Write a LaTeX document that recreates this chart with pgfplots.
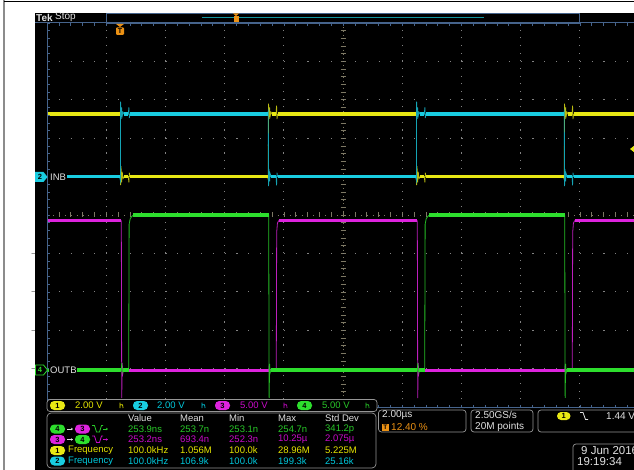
\documentclass[border=0pt]{standalone}
\usepackage{pgfplots}
\usepackage{pgfplotstable}
\pgfplotsset{compat=1.18}
\usetikzlibrary{arrows.meta}
\usepackage{fontspec}
\setmainfont{Liberation Sans}
\definecolor{chA}{RGB}{232,232,20}
\definecolor{chB}{RGB}{25,205,225}
\definecolor{chC}{RGB}{222,35,222}
\definecolor{chD}{RGB}{45,222,45}
\definecolor{tA}{RGB}{230,230,0}
\definecolor{tB}{RGB}{0,200,220}
\definecolor{tC}{RGB}{200,10,200}
\definecolor{tD}{RGB}{40,200,40}
\definecolor{gridc}{RGB}{130,130,130}
\definecolor{cenc}{RGB}{125,120,100}
\definecolor{bord}{RGB}{70,100,140}
\definecolor{boxc}{RGB}{150,150,150}
\definecolor{txt}{RGB}{225,225,225}
\definecolor{orng}{RGB}{235,145,20}
\definecolor{recbar}{RGB}{20,150,160}
\newcommand{\rf}{\fontsize{9.5}{10}\selectfont}
\newcommand{\bxf}{\fontsize{10}{10.5}\selectfont}
\newcommand{\pf}{\bfseries\fontsize{7.5}{8}\selectfont}
\newcommand{\pill}[4]{\fill[#3, rounded corners=4.2pt] (#1,#2-4.5) rectangle ++(15,9);
  \node[black, font=\pf, inner sep=0pt] at (#1+7.5,#2) {#4};}
\newcommand{\bw}[3]{\draw[#3, line width=0.7pt] (#1,#2+2.5) -- (#1,#2-3) (#1,#2-0.5) .. controls (#1+2,#2-2) and (#1+3,#2-1) .. (#1+3,#2+2.5);}

% channel 1 (yellow) : time in us, volts
\pgfplotstableread{
t v s
-2.6 3.25 1
-0.03 3.25 1
0.000 3.4 0
0.006 -0.45 0
0.020 0.55 0
0.040 -0.3 0
0.060 0.25 0
0.090 -0.1 0
0.130 0.0 1
0.270 0.0 1
0.285 -0.3 0
0.300 0.2 0
0.320 0.0 1
4.970 0.0 1
4.995 -0.15 0
5.005 3.8 0
5.020 3.0 0
5.040 3.6 0
5.060 3.15 0
5.090 3.35 0
5.130 3.25 1
5.260 3.25 1
5.275 3.7 0
5.290 3.0 0
5.310 3.25 1
9.970 3.25 1
10.000 3.4 0
10.006 -0.45 0
10.020 0.55 0
10.040 -0.3 0
10.060 0.25 0
10.090 -0.1 0
10.130 0.0 1
10.270 0.0 1
10.285 -0.3 0
10.300 0.2 0
10.320 0.0 1
14.970 0.0 1
14.995 -0.15 0
15.005 3.8 0
15.020 3.0 0
15.040 3.6 0
15.060 3.15 0
15.090 3.35 0
15.130 3.25 1
15.260 3.25 1
15.275 3.7 0
15.290 3.0 0
15.310 3.25 1
17.600 3.25 1
}\chone
% channel 2 (cyan, INB)
\pgfplotstableread{
t v s
-2.6 0.0 1
-0.03 0.0 1
0.000 -0.2 0
0.006 3.9 0
0.020 3.0 0
0.040 3.6 0
0.060 3.15 0
0.090 3.35 0
0.130 3.25 1
0.270 3.25 1
0.285 3.6 0
0.300 3.05 0
0.320 3.25 1
4.970 3.25 1
4.995 3.4 0
5.005 -0.5 0
5.020 0.4 0
5.040 -0.25 0
5.060 0.15 0
5.090 0.0 1
5.260 0.0 1
5.275 -0.45 0
5.290 0.2 0
5.310 0.0 1
9.970 0.0 1
10.000 -0.2 0
10.006 3.9 0
10.020 3.0 0
10.040 3.6 0
10.060 3.15 0
10.090 3.35 0
10.130 3.25 1
10.270 3.25 1
10.285 3.6 0
10.300 3.05 0
10.320 3.25 1
14.970 3.25 1
14.995 3.4 0
15.005 -0.5 0
15.020 0.4 0
15.040 -0.25 0
15.060 0.15 0
15.090 0.0 1
15.260 0.0 1
15.275 -0.45 0
15.290 0.2 0
15.310 0.0 1
17.600 0.0 1
}\chtwo
% channel 3 (magenta)
\pgfplotstableread{
t v s
-2.6 19.5 1
0.030 19.5 1
0.045 -3.6 0
0.060 1.0 0
0.080 -0.4 0
0.100 0.0 1
5.010 0.0 1
5.030 0.8 0
5.045 -0.3 0
5.065 0.0 1
5.265 0.0 1
5.280 18.0 0
5.305 19.2 0
5.345 19.5 1
10.030 19.5 1
10.045 -3.6 0
10.060 1.0 0
10.080 -0.4 0
10.100 0.0 1
15.010 0.0 1
15.030 0.8 0
15.045 -0.3 0
15.065 0.0 1
15.265 0.0 1
15.280 18.0 0
15.305 19.2 0
15.345 19.5 1
17.600 19.5 1
}\chthree
% channel 4 (green, OUTB)
\pgfplotstableread{
t v s
-2.6 0.0 1
0.030 0.0 1
0.045 0.9 0
0.060 -0.3 0
0.080 0.0 1
0.280 0.0 1
0.295 19.0 0
0.330 19.7 0
0.380 20.0 0
0.440 20.2 1
5.010 20.2 1
5.025 -3.6 0
5.040 0.8 0
5.060 -0.3 0
5.080 0.0 1
10.030 0.0 1
10.045 0.9 0
10.060 -0.3 0
10.080 0.0 1
10.280 0.0 1
10.295 19.0 0
10.330 19.7 0
10.380 20.0 0
10.440 20.2 1
15.010 20.2 1
15.025 -3.6 0
15.040 0.8 0
15.060 -0.3 0
15.080 0.0 1
17.600 0.0 1
}\chfour

\begin{document}
\begin{tikzpicture}
\useasboundingbox (0pt,0pt) rectangle (634pt,-470pt);
\clip (0pt,0pt) rectangle (634pt,-470pt);
% ---------- background and graticule (pixel coordinates, y downwards)
\begin{scope}[x=1pt,y=-1pt]
\fill[white] (0,0) rectangle (634,470);
\draw[black!45, line width=1.3pt] (4,0) -- (4,470);
\draw[black, line width=1pt] (4,2) -- (634,2);
\fill[black] (35,13) rectangle (634,470);
% centre lines
\draw[cenc, line width=0.8pt, dash pattern=on 0.8pt off 5.12pt] (47,215) -- (639,215);
\draw[cenc, line width=0.8pt, dash pattern=on 0.8pt off 3.04pt] (343,23) -- (343,407);
\foreach \i in {0,...,50} {
  \draw[cenc, line width=0.6pt] ({47+11.84*\i},212.5) -- ++(0,5);
  \draw[cenc, line width=0.6pt] (340.5,{23+7.68*\i}) -- ++(5,0);
}
\end{scope}

\begin{axis}[
  at={(47pt,-407pt)}, anchor=south west,
  scale only axis, width=592pt, height=384pt,
  xmin=-2.48, xmax=17.52, ymin=-5, ymax=5,
  axis line style={draw=none},
  xtick={-0.48,1.52,3.52,5.52,9.52,11.52,13.52,15.52},
  ytick={-4,-3,-2,-1,1,2,3,4},
  xticklabel={}, yticklabel={},
  major tick length=0pt, tick style={draw=none},
  xmajorgrids, ymajorgrids,
  x grid style={gridc, line width=1.1pt, dash pattern=on 1.1pt off 6.58pt},
  y grid style={gridc, line width=1.1pt, dash pattern=on 1.1pt off 10.74pt},
  clip=true,
]
% ch1 yellow: 2 V/div, ground at +1 div
\addplot[chA!80!black, line width=0.8pt] table[x=t, y expr=\thisrow{v}/2+1] {\chone};
\addplot[chA, line width=3.4pt, unbounded coords=jump, restrict expr to domain={\thisrow{s}}{0.5:1.5}] table[x=t, y expr=\thisrow{v}/2+1] {\chone};
% ch2 cyan: 2 V/div, ground at +1 div
\addplot[chB!80!black, line width=0.8pt] table[x=t, y expr=\thisrow{v}/2+1] {\chtwo};
\addplot[chB, line width=3.4pt, unbounded coords=jump, restrict expr to domain={\thisrow{s}}{0.5:1.5}] table[x=t, y expr=\thisrow{v}/2+1] {\chtwo};
% ch3 magenta: 5 V/div, ground at -4.05 div
\addplot[chC!85!black, line width=0.8pt] table[x=t, y expr=\thisrow{v}/5-4.05] {\chthree};
\addplot[chC, line width=3.4pt, unbounded coords=jump, restrict expr to domain={\thisrow{s}}{0.5:1.5}] table[x=t, y expr=\thisrow{v}/5-4.05] {\chthree};
% ch4 green: 5 V/div, ground at -4.04 div
\addplot[chD!85!black, line width=0.8pt] table[x=t, y expr=\thisrow{v}/5-4.04] {\chfour};
\addplot[chD, line width=3.4pt, unbounded coords=jump, restrict expr to domain={\thisrow{s}}{0.5:1.5}] table[x=t, y expr=\thisrow{v}/5-4.04] {\chfour};
\end{axis}

% ---------- overlays
\begin{scope}[x=1pt,y=-1pt, lbl/.style={anchor=west, inner sep=0pt, font=\rf}]
% borders and ticks
\draw[bord, line width=1pt] (35,23) -- (634,23);
\draw[bord, line width=1pt] (47,23) -- (47,407);
\draw[bord, line width=1pt] (47,407.5) -- (634,407.5);
\foreach \i in {0,...,50} {
  \draw[bord, line width=0.6pt] ({47+11.84*\i},23) -- ++(0,3);
  \draw[bord, line width=0.6pt] ({47+11.84*\i},407.5) -- ++(0,-3);
  \draw[bord, line width=0.6pt] (47,{23+7.68*\i}) -- ++(3,0);
}
% top bar
\node[lbl, txt, font=\bfseries\fontsize{10}{10}\selectfont] at (36,17.5) {Tek};
\node[lbl, txt, font=\fontsize{10}{10}\selectfont] at (55,17.5) {Stop};
\draw[bord, line width=0.9pt] (106.5,13) rectangle (579,23);
\draw[recbar, line width=1pt] (202,17.5) -- (484,17.5);
\fill[orng] (233,13.5) -- (239,13.5) -- (236,16) -- cycle;
\fill[orng] (233.5,16) rectangle (238.5,22);
% trigger position marker
\fill[orng] (116,24) -- (124,24) -- (120,27) -- cycle;
\fill[orng, rounded corners=1pt] (116,27.5) rectangle (124,35);
\node[black, inner sep=0pt, font=\bfseries\fontsize{7}{7}\selectfont] at (120,31.5) {T};
% trigger level marker
\fill[chA] (630,149) -- (635,145) -- (635,153) -- cycle;
% channel ground markers and labels
\fill[chB] (35,172) -- (43.5,172) -- (47.5,177) -- (43.5,182) -- (35,182) -- cycle;
\node[black, inner sep=0pt, font=\pf] at (40,177) {2};
\fill[black] (48,171) rectangle (67,183);
\node[lbl, txt] at (50,177) {INB};
\draw[chD, line width=0.8pt, fill=black] (35.5,365) -- (43.5,365) -- (47.5,370) -- (43.5,375) -- (35.5,375) -- cycle;
\node[chD, inner sep=0pt, font=\pf] at (40,370) {4};
\fill[black] (48.5,364) rectangle (77,376);
\node[lbl, txt] at (50,370) {OUTB};
% channel readout row
\draw[boxc, rounded corners=3pt, line width=0.7pt, fill=black] (47,399.5) rectangle (377,411.5);
\pill{50}{405.5}{chA}{1}
\node[lbl, tA] at (75,405.5) {2.00 V};
\bw{120}{405.5}{tA}
\pill{133}{405.5}{chB}{2}
\node[lbl, tB] at (157,405.5) {2.00 V};
\bw{202}{405.5}{tB}
\pill{215}{405.5}{chC}{3}
\node[lbl, tC] at (240,405.5) {5.00 V};
\bw{284}{405.5}{tC}
\pill{297}{405.5}{chD}{4}
\node[lbl, tD] at (322,405.5) {5.00 V};
\bw{366}{405.5}{tD}
% measurement table
\draw[boxc, rounded corners=4pt, line width=0.7pt, fill=black] (47,413) rectangle (376,468);
\node[lbl, txt] at (128,418.5) {Value};
\node[lbl, txt] at (180,418.5) {Mean};
\node[lbl, txt] at (229,418.5) {Min};
\node[lbl, txt] at (278,418.5) {Max};
\node[lbl, txt] at (325,418.5) {Std Dev};
% row 1
\pill{50}{429}{chD}{4}
\draw[txt, line width=0.6pt, -{Stealth[length=2pt,width=2.5pt]}] (67,429) -- (73,429);
\pill{75}{429}{chC}{3}
\draw[tD, line width=0.8pt] (92,425.5) -- (94.5,425.5) -- (96.5,432) -- (99.5,432) -- (101.5,425.5) -- (103,425.5);
\draw[tD, line width=0.6pt, -{Stealth[length=2pt,width=2.5pt]}] (103,429) -- (108,429);
\node[lbl, tD] at (128,429) {253.9ns};
\node[lbl, tD] at (180,429) {253.7n};
\node[lbl, tD] at (229,429) {253.1n};
\node[lbl, tD] at (278,429) {254.7n};
\node[lbl, tD] at (325,429) {341.2p};
% row 2
\pill{50}{439.5}{chC}{3}
\draw[txt, line width=0.6pt, -{Stealth[length=2pt,width=2.5pt]}] (67,439.5) -- (73,439.5);
\pill{75}{439.5}{chD}{4}
\draw[tC, line width=0.8pt] (92,436) -- (94.5,436) -- (96.5,442.5) -- (99.5,442.5) -- (101.5,436) -- (103,436);
\draw[tC, line width=0.6pt, -{Stealth[length=2pt,width=2.5pt]}] (103,439.5) -- (108,439.5);
\node[lbl, tC] at (128,439.5) {253.2ns};
\node[lbl, tC] at (180,439.5) {693.4n};
\node[lbl, tC] at (229,439.5) {252.3n};
\node[lbl, tC] at (278,439.5) {10.25µ};
\node[lbl, tC] at (325,439.5) {2.075µ};
% row 3
\pill{50}{450.5}{chA}{1}
\node[lbl, tA] at (68,450.5) {Frequency};
\node[lbl, tA] at (128,450.5) {100.0kHz};
\node[lbl, tA] at (180,450.5) {1.056M};
\node[lbl, tA] at (229,450.5) {100.0k};
\node[lbl, tA] at (278,450.5) {28.96M};
\node[lbl, tA] at (325,450.5) {5.225M};
% row 4
\pill{50}{461}{chB}{2}
\node[lbl, tB] at (68,461) {Frequency};
\node[lbl, tB] at (128,461) {100.0kHz};
\node[lbl, tB] at (180,461) {106.9k};
\node[lbl, tB] at (229,461) {100.0k};
\node[lbl, tB] at (278,461) {199.3k};
\node[lbl, tB] at (325,461) {25.16k};
% horizontal / acquisition / trigger boxes
\draw[boxc, rounded corners=3pt, line width=0.7pt] (378.5,410) rectangle (466,432);
\node[lbl, txt, font=\bxf] at (382,415) {2.00µs};
\fill[orng] (382,423.5) rectangle (388.5,430.5);
\node[black, inner sep=0pt, font=\bfseries\fontsize{6.5}{7}\selectfont] at (385.25,427) {T};
\node[lbl, orng, font=\bxf] at (391,427) {12.40 \%};
\draw[boxc, rounded corners=3pt, line width=0.7pt] (471,410) rectangle (533,432);
\node[lbl, txt, font=\bxf] at (475,415) {2.50GS/s};
\node[lbl, txt, font=\bxf] at (475,427) {20M points};
\draw[boxc, rounded corners=3pt, line width=0.7pt] (538,410) rectangle (660,432);
\fill[chA, rounded corners=4pt] (557,412) rectangle (570.5,420);
\node[black, inner sep=0pt, font=\pf] at (563.75,416) {1};
\draw[txt, line width=0.8pt] (580,412.5) -- (583,412.5) -- (585.5,419.5) -- (588,419.5);
\node[lbl, txt, font=\bxf] at (606,416) {1.44 V};
\draw[boxc, rounded corners=3pt, line width=0.7pt] (573,444) rectangle (660,480);
\node[lbl, txt, font=\fontsize{11.5}{12}\selectfont] at (581,450.5) {9 Jun 2016};
\node[lbl, txt, font=\fontsize{11.5}{12}\selectfont] at (577,461.5) {19:19:34};
\end{scope}
\end{tikzpicture}
\end{document}
